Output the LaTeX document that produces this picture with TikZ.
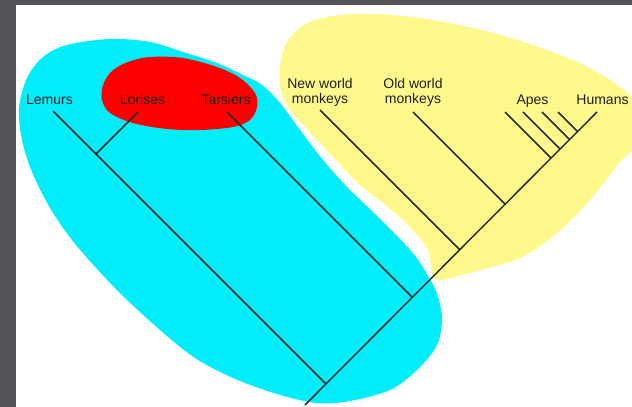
\documentclass[tikz,border=0pt]{standalone}
\usepackage{fontspec}
\setmainfont{Liberation Sans}
\definecolor{framegrey}{RGB}{84,83,88}
\definecolor{blobcyan}{RGB}{0,238,250}
\definecolor{blobred}{RGB}{255,0,0}
\definecolor{blobyellow}{RGB}{255,249,140}
\definecolor{linecol}{RGB}{38,44,44}
\begin{document}
\begin{tikzpicture}[x=0.75pt,y=-0.75pt,
  lbl/.style={font=\fontsize{10.5}{11.6}\selectfont, text=black!88, inner sep=0pt, align=center},
  branch/.style={draw=linecol, line width=1.1pt}]
\useasboundingbox (0,0) rectangle (632,407);
\fill[white] (0,0) rectangle (632,407);
\fill[framegrey] (0,0) rectangle (632,5);
\fill[framegrey] (0,0) rectangle (16,407);
% yellow blob
\fill[blobyellow] plot[smooth cycle, tension=0.55] coordinates {
 (280,70) (284,48) (295,32) (312,21) (340,15) (377,14) (427,19) (477,29)
 (527,43) (577,62) (610,80) (632,97) (645,115) (642,140) (620,162) (590,200)
 (557,233) (520,258) (473,272) (440,280) (432,272) (428,250) (412,229)
 (388,207) (360,185) (334,158) (308,130) (290,110) (281,90)};
% cyan blob
\fill[blobcyan] plot[smooth cycle, tension=0.55] coordinates {
 (19,108) (27,78) (43,57) (67,45) (110,39) (150,42) (183,52) (217,63)
 (245,76) (262,85) (280,103) (300,130) (323,160) (348,188) (373,212)
 (398,237) (416,257) (428,276) (437,294) (442,318) (437,345) (417,370)
 (390,390) (350,401) (317,403) (277,394) (233,378) (195,358) (160,330)
 (125,298) (98,270) (72,240) (50,208) (32,172) (22,140)};
% red blob
\fill[blobred] plot[smooth cycle, tension=0.55] coordinates {
 (103,85) (112,71) (128,62) (150,57) (183,58) (217,67) (240,78) (255,93)
 (257,107) (250,120) (233,127) (200,130) (167,129) (133,123) (110,113) (102,100)};
% labels
\node[lbl, anchor=base] (lem) at (49.5,104) {Lemurs};
\node[lbl, anchor=base] (lor) at (142.5,104) {Lorises};
\node[lbl, anchor=base] (tar) at (226,104) {Tarsiers};
\node[lbl, anchor=base] (nw1) at (320,88) {New world};
\node[lbl, anchor=base] (nw2) at (320,103) {monkeys};
\node[lbl, anchor=base] (ow1) at (413,88) {Old world};
\node[lbl, anchor=base] (ow2) at (413,103) {monkeys};
\node[lbl, anchor=base] (ape) at (532.5,104) {Apes};
\node[lbl, anchor=base] (hum) at (602.5,104) {Humans};
% tree coordinates
\coordinate (root) at (305,405);
\coordinate (rj) at (326,384);
\coordinate (lemtop) at (53,111);
\coordinate (lorj) at (96,154);
\coordinate (lortop) at (138,112);
\coordinate (tarj) at (412,297);
\coordinate (tartop) at (227,112);
\coordinate (nwj) at (460,250);
\coordinate (nwtop) at (320,110);
\coordinate (owj) at (505,204);
\coordinate (owtop) at (413,112);
\coordinate (a1j) at (551,158);
\coordinate (a1top) at (505,112);
\coordinate (a2j) at (560,149);
\coordinate (a2top) at (523,112);
\coordinate (a3j) at (569.5,139.5);
\coordinate (a3top) at (542,112);
\coordinate (a4j) at (577.5,131.5);
\coordinate (a4top) at (558,112);
\coordinate (humtop) at (597,112);
% branches
\draw[branch] (root) -- (humtop);
\draw[branch] (lemtop) -- (rj);
\draw[branch] (lortop) -- (lorj);
\draw[branch] (tartop) -- (tarj);
\draw[branch] (nwtop) -- (nwj);
\draw[branch] (owtop) -- (owj);
\draw[branch] (a1top) -- (a1j);
\draw[branch] (a2top) -- (a2j);
\draw[branch] (a3top) -- (a3j);
\draw[branch] (a4top) -- (a4j);
\end{tikzpicture}
\end{document}
